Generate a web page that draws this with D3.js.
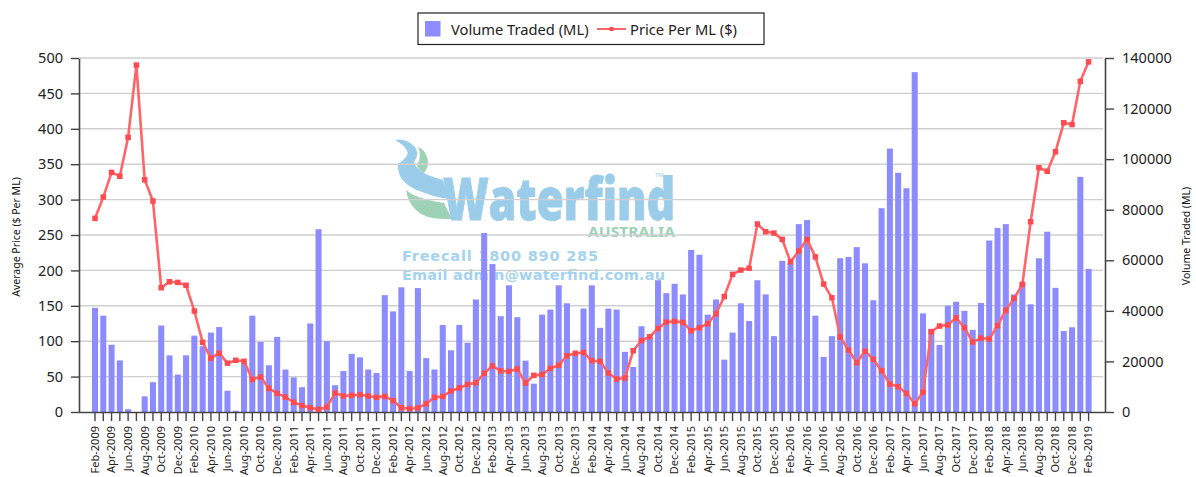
<!DOCTYPE html>
<html>
<head>
<meta charset="utf-8">
<script src="https://cdn.jsdelivr.net/npm/d3@7"></script>
<style>
    html, body { margin: 0; padding: 0; background: #fff; }
    svg { display: block; }
    text { font-family: "Noto Sans", sans-serif; }
</style>
</head>
<body>
<svg width="1196" height="477"></svg>
<script>
const width = 1196, height = 477;
const svg = d3.select("svg");

const months = [
    "Feb-2009","Mar-2009","Apr-2009","May-2009","Jun-2009","Jul-2009","Aug-2009","Sep-2009","Oct-2009","Nov-2009","Dec-2009",
    "Jan-2010","Feb-2010","Mar-2010","Apr-2010","May-2010","Jun-2010","Jul-2010","Aug-2010","Sep-2010","Oct-2010","Nov-2010","Dec-2010",
    "Jan-2011","Feb-2011","Mar-2011","Apr-2011","May-2011","Jun-2011","Jul-2011","Aug-2011","Sep-2011","Oct-2011","Nov-2011","Dec-2011",
    "Jan-2012","Feb-2012","Mar-2012","Apr-2012","May-2012","Jun-2012","Jul-2012","Aug-2012","Sep-2012","Oct-2012","Nov-2012","Dec-2012",
    "Jan-2013","Feb-2013","Mar-2013","Apr-2013","May-2013","Jun-2013","Jul-2013","Aug-2013","Sep-2013","Oct-2013","Nov-2013","Dec-2013",
    "Jan-2014","Feb-2014","Mar-2014","Apr-2014","May-2014","Jun-2014","Jul-2014","Aug-2014","Sep-2014","Oct-2014","Nov-2014","Dec-2014",
    "Jan-2015","Feb-2015","Mar-2015","Apr-2015","May-2015","Jun-2015","Jul-2015","Aug-2015","Sep-2015","Oct-2015","Nov-2015","Dec-2015",
    "Jan-2016","Feb-2016","Mar-2016","Apr-2016","May-2016","Jun-2016","Jul-2016","Aug-2016","Sep-2016","Oct-2016","Nov-2016","Dec-2016",
    "Jan-2017","Feb-2017","Mar-2017","Apr-2017","May-2017","Jun-2017","Jul-2017","Aug-2017","Sep-2017","Oct-2017","Nov-2017","Dec-2017",
    "Jan-2018","Feb-2018","Mar-2018","Apr-2018","May-2018","Jun-2018","Jul-2018","Aug-2018","Sep-2018","Oct-2018","Nov-2018","Dec-2018",
    "Jan-2019","Feb-2019"
];

const volume = [
    41200,38100,26600,20400,1100,0,6200,11800,34200,22400,14800,
    22400,30200,26000,31400,33600,8400,500,19000,38100,27700,18500,29700,
    16800,13700,9800,35000,72300,28000,10600,16200,23000,21600,16800,15400,
    46200,39800,49300,16200,49000,21300,16800,34400,24400,34400,27400,44500,
    70800,58500,37900,50100,37500,20300,11200,38500,40500,50100,43000,23000,
    40900,50100,33300,40900,40500,23800,17800,33900,29700,52100,47000,50700,
    46500,64100,62200,38500,44500,20700,31400,43000,36000,52100,46500,30000,
    59800,58800,74300,75900,38100,21800,30000,60800,61300,65200,58800,44200,
    80600,104200,94600,88500,134400,39000,32900,26500,42000,43600,40000,32500,
    43100,67800,72800,74300,46500,51100,42600,60800,71300,49100,32000,33500,
    93000,56600
];

const price = [
    273.5,303.6,338.4,333,388,490,328,298,175.5,184,183,
    179,142.6,98.4,76,83,69,73,71.6,46,49.4,33.4,26.4,
    21,13.7,9,6,3.8,7,26.8,22.6,23.6,24.4,22.6,20.7,
    22,16,6,4.7,5.6,11.7,20.7,22,29.7,34,39,41.4,
    54.6,65,58,57.4,60.7,41,51.8,53,61.7,66,79.5,83,
    84,72.4,71.6,55,46.6,48,86.6,101,106.3,118,127,128,
    126.6,114.8,119,124.7,138.8,163,194.4,200.5,203,265.5,254.6,252.7,
    243.8,212,227.3,243.8,219,180.7,161.4,106,87.5,69.6,86,74.4,
    58.3,39.5,35.7,26.4,11.7,27.8,113.4,121.4,122.8,133,119,98.8,
    104.5,103,121.9,143.6,160.5,180.3,268.7,345,340,367.5,408.5,406,
    467,494.6
];

const priceTicks = [0, 50, 100, 150, 200, 250, 300, 350, 400, 450, 500];
const volumeTicks = [0, 20000, 40000, 60000, 80000, 100000, 120000, 140000];

const plotTop = 58, plotBottom = 412, plotLeft = 79, plotRight = 1105;
const barColor = "#8c8cff", lineColor = "#ff6468", axisColor = "#444";

// Scales
const xScale = d3.scaleBand()
    .domain(months)
    .range([90.86, 1092.74])
    .paddingInner(0.27)
    .paddingOuter(0.135);

const yPrice = d3.scaleLinear().domain([0, 500]).range([plotBottom, plotTop]);
const yVolume = d3.scaleLinear().domain([0, 140000]).range([plotBottom, plotTop]);
const xMid = d => xScale(d) + xScale.bandwidth() / 2;

// Watermark logo sits behind the grid
const logo = svg.append("g");
const logoBlue = "#9bcdeb", logoGreen = "#9ed2b6";

logo.append("path")
    .attr("fill", logoBlue)
    .attr("d", "M395,140 C401,138 410,141 415,147 C418,151 418,158 414,162 C415,167 422,172 428,175 C434,177 439,179 443,180 L449,199 C440,198 432,196 425,193 C418,191 412,188 408,185 C402,180 398,176 398,165 C400,162 404,160 405,158 C408,155 408,152 407,151 C405,146 400,143 395,140 Z");
logo.append("path")
    .attr("fill", logoGreen)
    .attr("d", "M418,147 C424,149 428,156 428,163 C428,167 426,170 424,173 C420,171 418,168 417,165 C420,161 421,153 418,147 Z");
logo.append("path")
    .attr("fill", logoGreen)
    .attr("d", "M406,190 C412,195 418,197 425,199 C432,201 438,202 444,203 L452,219 C444,219 436,219 428,217 C418,214 408,205 406,190 Z");

logo.append("text")
    .attr("x", 443).attr("y", 220)
    .attr("textLength", 232).attr("lengthAdjust", "spacingAndGlyphs")
    .style("font-family", "'Open Sans'")
    .style("font-size", "58px").style("font-weight", "800")
    .attr("fill", logoBlue)
    .attr("stroke", logoBlue)
    .attr("stroke-width", 1)
    .text("Waterfind");
logo.append("text")
    .attr("x", 655).attr("y", 177)
    .style("font-size", "6px")
    .attr("fill", logoBlue)
    .text("TM");
logo.append("text")
    .attr("x", 588).attr("y", 237)
    .attr("textLength", 87).attr("lengthAdjust", "spacingAndGlyphs")
    .style("font-size", "14px").style("font-weight", "bold")
    .attr("fill", logoGreen)
    .text("AUSTRALIA");
logo.append("text")
    .attr("x", 402).attr("y", 261)
    .attr("textLength", 196)
    .style("font-family", "'DejaVu Sans'")
    .style("font-size", "14.5px").style("font-weight", "bold")
    .attr("fill", "#a5d3ee")
    .text("Freecall 1800 890 285");
logo.append("text")
    .attr("x", 402).attr("y", 280)
    .attr("textLength", 263)
    .style("font-family", "'DejaVu Sans'")
    .style("font-size", "14.5px").style("font-weight", "bold")
    .attr("fill", "#a5d3ee")
    .text("Email admin@waterfind.com.au");

// Horizontal grid
svg.append("g")
    .selectAll("line")
    .data(priceTicks.slice(1))
    .enter().append("line")
    .attr("x1", plotLeft + 1)
    .attr("x2", plotRight - 2)
    .attr("y1", d => yPrice(d))
    .attr("y2", d => yPrice(d))
    .attr("stroke", "#cfcfcf")
    .attr("stroke-width", 1.4);

// Volume bars
svg.append("g")
    .selectAll("rect")
    .data(volume)
    .enter().append("rect")
    .attr("x", (d, i) => xScale(months[i]))
    .attr("y", d => yVolume(d))
    .attr("width", xScale.bandwidth())
    .attr("height", d => plotBottom - yVolume(d))
    .attr("fill", barColor);

// Axes
const styleAxis = (g, size) => {
    g.selectAll(".domain").attr("stroke", axisColor).attr("stroke-width", 1.6);
    g.selectAll(".tick line").attr("stroke", axisColor).attr("stroke-width", 1.4);
    g.selectAll(".tick text")
        .attr("fill", "#222")
        .style("font-family", "'Noto Sans'")
        .style("font-size", size);
};

svg.append("g")
    .attr("transform", `translate(${plotLeft},0)`)
    .call(d3.axisLeft(yPrice).tickValues(priceTicks).tickSize(8).tickSizeOuter(0).tickPadding(8))
    .call(styleAxis, "14.5px");

svg.append("g")
    .attr("transform", `translate(${plotRight},0)`)
    .call(d3.axisRight(yVolume).tickValues(volumeTicks).tickSize(9).tickSizeOuter(0).tickFormat(d3.format("d")).tickPadding(8))
    .call(styleAxis, "14.5px");

const xAxis = svg.append("g")
    .attr("transform", `translate(0,${plotBottom})`)
    .call(d3.axisBottom(xScale).tickSize(9).tickSizeOuter(0).tickFormat((d, i) => i % 2 === 0 ? d : ""));
xAxis.call(styleAxis, "11px");
xAxis.select(".domain").attr("d", `M${plotLeft},0.5H${plotRight}`);
xAxis.selectAll(".tick text")
    .attr("transform", "rotate(-90)")
    .attr("text-anchor", "end")
    .attr("dy", "0.35em")
    .attr("x", -14)
    .attr("y", 0);

// Axis titles
svg.append("text")
    .attr("transform", "rotate(-90)")
    .attr("x", -237)
    .attr("y", 20)
    .attr("text-anchor", "middle")
    .style("font-size", "10.5px")
    .attr("fill", "#111")
    .text("Average Price ($ Per ML)");

svg.append("text")
    .attr("transform", "rotate(-90)")
    .attr("x", -236)
    .attr("y", 1190)
    .attr("text-anchor", "middle")
    .style("font-size", "10.5px")
    .attr("fill", "#111")
    .text("Volume Traded (ML)");

// Price line
const line = d3.line()
    .x((d, i) => xMid(months[i]))
    .y(d => yPrice(d));

svg.append("path")
    .datum(price)
    .attr("d", line)
    .attr("fill", "none")
    .attr("stroke", lineColor)
    .attr("stroke-width", 2.6);

svg.append("g")
    .selectAll("rect")
    .data(price)
    .enter().append("rect")
    .attr("x", (d, i) => xMid(months[i]) - 2.75)
    .attr("y", d => yPrice(d) - 2.75)
    .attr("width", 5.5)
    .attr("height", 5.5)
    .attr("fill", "#ff4a50");

// Legend
const legend = svg.append("g");

legend.append("rect")
    .attr("x", 418).attr("y", 13)
    .attr("width", 346).attr("height", 31.5)
    .attr("fill", "#fff")
    .attr("stroke", "#222")
    .attr("stroke-width", 1.2);

legend.append("rect")
    .attr("x", 425).attr("y", 21)
    .attr("width", 15.5).attr("height", 15.5)
    .attr("fill", barColor);

legend.append("text")
    .attr("x", 451).attr("y", 35)
    .style("font-size", "14.7px")
    .attr("fill", "#222")
    .text("Volume Traded (ML)");

legend.append("line")
    .attr("x1", 597).attr("x2", 626)
    .attr("y1", 29).attr("y2", 29)
    .attr("stroke", lineColor)
    .attr("stroke-width", 2);

legend.append("rect")
    .attr("x", 609.5).attr("y", 27)
    .attr("width", 4).attr("height", 4)
    .attr("fill", "#ff4a50");

legend.append("text")
    .attr("x", 630).attr("y", 35)
    .style("font-size", "14.7px")
    .attr("fill", "#222")
    .text("Price Per ML ($)");
</script>
</body>
</html>
